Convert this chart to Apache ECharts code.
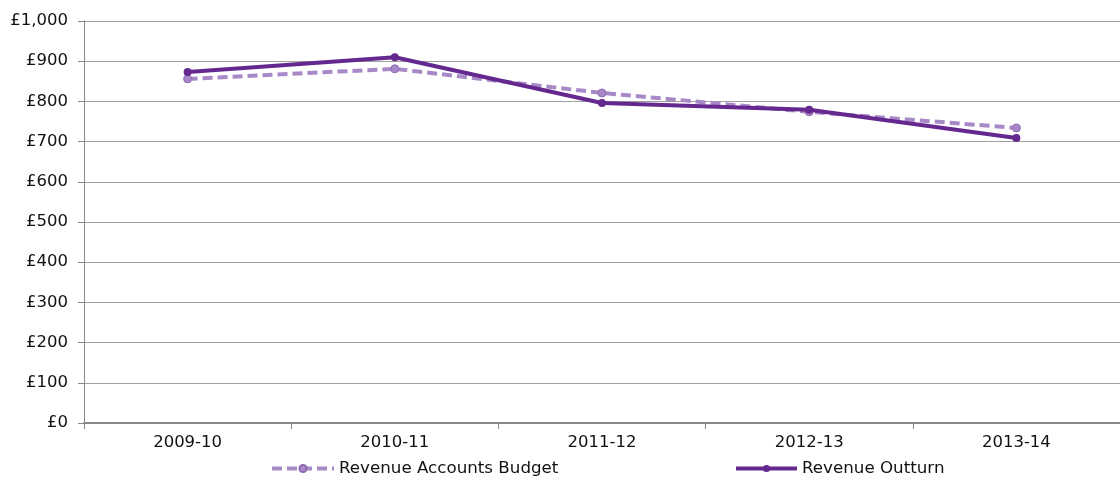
<!DOCTYPE html>
<html><head><meta charset="utf-8">
<script src="https://cdn.jsdelivr.net/npm/echarts@6/dist/echarts.min.js"></script>
<style>html,body{margin:0;padding:0;background:#fff}#c{width:1120px;height:477px}</style>
</head><body><div id="c"></div>
<script>
const categories = ['2009-10','2010-11','2011-12','2012-13','2013-14'];
const budget = [856, 881, 821, 774, 734];
const outturn = [873, 910, 796, 779, 709];

const chart = echarts.init(document.getElementById('c'), null, {renderer:'canvas'});
const font = '"DejaVu Sans", Verdana, sans-serif';
chart.setOption({
  animation:false,
  textStyle:{fontFamily:font},
  grid:{left:84,right:-6,top:21,bottom:54},
  legend:[
    {data:['Revenue Accounts Budget'],left:270,top:460,itemWidth:62,itemHeight:9,padding:0,
     lineStyle:{width:4},
     textStyle:{fontFamily:font,fontSize:16.7,color:'#111'}},
    {data:['Revenue Outturn'],left:734,top:460,itemWidth:61,itemHeight:9,padding:0,
     lineStyle:{width:4},
     textStyle:{fontFamily:font,fontSize:16.7,color:'#111'}}
  ],
  xAxis:{type:'category',data:categories,boundaryGap:true,
    axisLine:{lineStyle:{color:'#888',width:2}},
    axisTick:{show:true,alignWithLabel:false,length:6,lineStyle:{color:'#888',width:1}},
    axisLabel:{fontFamily:font,fontSize:16.5,color:'#111',margin:11}},
  yAxis:{type:'value',min:0,max:1000,interval:100,
    axisLine:{show:true,lineStyle:{color:'#888',width:1}},
    axisTick:{show:true,length:6,lineStyle:{color:'#888'}},
    splitLine:{lineStyle:{color:'#a0a0a0',width:1}},
    axisLabel:{fontFamily:font,fontSize:16.5,color:'#111',margin:16,
      formatter:v=>'£'+v.toLocaleString('en-GB')}},
  series:[
    {name:'Revenue Accounts Budget',type:'line',data:budget,
     symbol:'circle',symbolSize:8,
     lineStyle:{color:'#a889c8',width:4,type:[10,5]},
     itemStyle:{color:'#a889c8',borderColor:'#8f68b4',borderWidth:1},z:2},
    {name:'Revenue Outturn',type:'line',data:outturn,
     symbol:'circle',symbolSize:8,
     lineStyle:{color:'#64288f',width:4},
     itemStyle:{color:'#64288f'},z:3}
  ]
});
</script></body></html>
